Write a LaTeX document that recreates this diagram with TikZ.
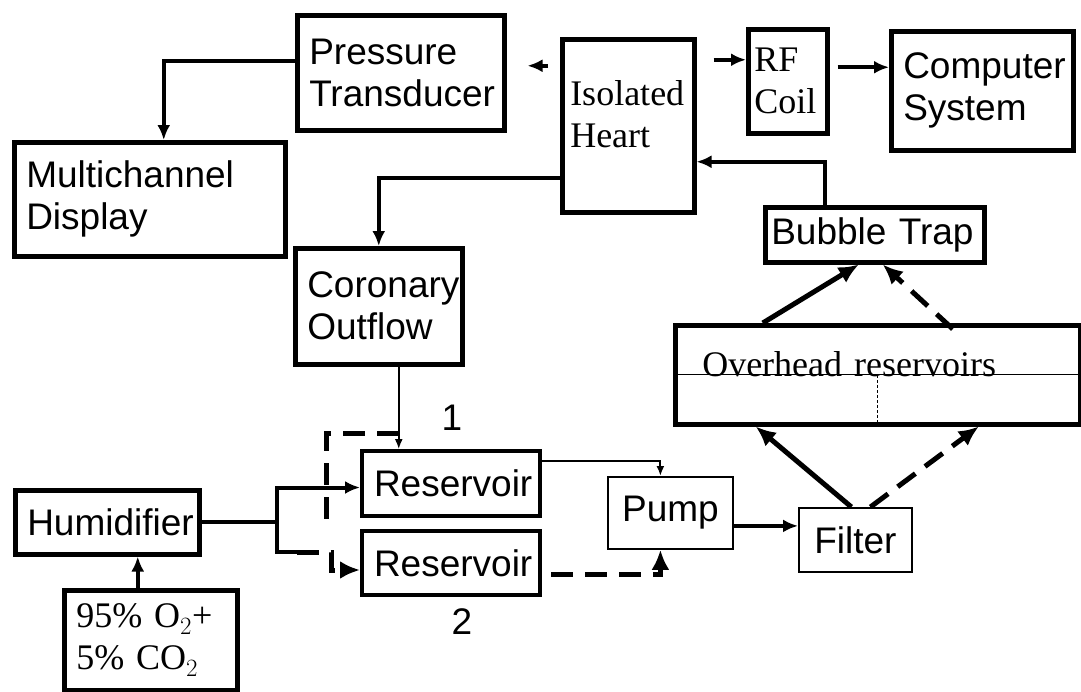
\documentclass[tikz,border=0pt]{standalone}
\usepackage{fontspec}
\setmainfont{Liberation Serif}
\setsansfont{Liberation Sans}
\usetikzlibrary{arrows.meta,calc}

\newcommand{\bigfont}{\fontsize{37}{42}\selectfont}
\newcommand{\serffont}{\rmfamily\fontsize{36}{42}\selectfont}

\begin{document}
\begin{tikzpicture}[x=1pt, y=-1pt,
  box/.style={draw, line width=4.5pt, rectangle, anchor=north west, inner xsep=12pt, inner ysep=4pt, align=left, font=\sffamily\bigfont},
  thinbox/.style={box, line width=1.8pt, align=center},
  serifbox/.style={box, font=\serffont},
  flow/.style={line width=3.5pt, -{Latex[length=15pt,width=13pt]}},
  thinflow/.style={line width=1.6pt, -{Latex[length=10pt,width=8pt]}},
  bigflow/.style={line width=5pt, -{Latex[length=20pt,width=18pt]}},
  dashflow/.style={bigflow, dash pattern=on 22pt off 12pt}]
\useasboundingbox (0,0) rectangle (1081,691);

% Monitoring side
\node[box, text width=183pt, minimum height=115pt] (press) at (295,13) {Pressure\\Transducer};
\node[box, text width=247pt, minimum height=114pt] (multi) at (12,140) {Multichannel\\Display};
\node[serifbox, text width=116pt, inner xsep=8pt, inner ysep=8pt, text height=58pt, text depth=99pt] (heart) at (560,37) {Isolated\\Heart};
\node[serifbox, text width=67pt, inner xsep=6pt, minimum height=104pt] (rfcoil) at (746,27) {RF\\Coil};
\node[box, text width=158pt, minimum height=119pt] (comp) at (889,29) {Computer\\System};

% Perfusion circuit
\node[box, text width=143pt, minimum height=116pt] (coron) at (293,246) {Coronary\\Outflow};
\node[box, text width=207pt, inner xsep=6pt, minimum height=55pt] (bubble) at (763,205) {Bubble Trap};
\node[box, font=\serffont, text width=351pt, inner xsep=27pt, minimum height=99pt, text height=25pt, text depth=22pt] (overhead) at (673,323) {Overhead reservoirs};
\draw[line width=1.2pt] (overhead.west) -- (overhead.east);
\draw[line width=0.8pt, dash pattern=on 3pt off 2pt] (overhead.center) -- (overhead.south);
\node[box, line width=4pt, text width=154pt, minimum height=65pt] (res1) at (360,449) {Reservoir};
\node[box, line width=4pt, text width=154pt, minimum height=64pt] (res2) at (360,529) {Reservoir};
\node[thinbox, minimum width=125pt, minimum height=72pt] (pump) at (607,476) {Pump};
\node[thinbox, minimum width=113pt, minimum height=64pt] (filter) at (798,507) {Filter};
\node[font=\sffamily\bigfont] (one) at (452,418) {1};
\node[font=\sffamily\bigfont] (two) at (462,622) {2};

% Gas supply
\node[box, text width=160pt, minimum height=64pt] (humid) at (13,488) {Humidifier};
\node[serifbox, text width=149pt, inner xsep=12pt, minimum height=100pt] (gas) at (62,588) {95\% O$_2$+\\5\% CO$_2$};

% Signal connectors
\draw[flow] ([yshift=12pt]press.west) -| ([xshift=14pt]multi.north);
\coordinate (hp) at ([yshift=60pt]heart.west);
\draw[flow, line width=4.5pt, shorten <=12pt, shorten >=21pt] (hp) -- (hp -| press.east);
\coordinate (hr) at ([yshift=66pt]heart.east);
\draw[flow, line width=4.5pt, shorten <=17pt] (hr) -- (hr -| rfcoil.west);
\coordinate (rc) at ([yshift=14pt]rfcoil.east);
\draw[flow, line width=4pt, shorten <=8pt] (rc) -- (rc -| comp.west);

% Flow connectors
\draw[flow] ([yshift=-52pt]heart.west) -| (coron.north);
\coordinate (cs) at ([xshift=20pt]coron.south);
\draw[thinflow] (cs) -- (cs |- res1.north);
\coordinate (cj) at ($(cs |- res1.north)+(0,-16)$);
\coordinate (cd) at ($(cj)+(-72,87)$);
\draw[line width=5pt, dash pattern=on 22pt off 12pt] (cj) -| (cd);
\draw[flow, line width=4.5pt] ([xshift=-50pt]bubble.north) |- ([yshift=-36pt]heart.east);
\draw[bigflow] ([xshift=-115pt]overhead.north) -- ([xshift=-16pt]bubble.south);
\draw[dashflow] ([xshift=75pt,yshift=-6pt]overhead.north) -- ([xshift=8pt]bubble.south);
\draw[bigflow] ([xshift=-4pt]filter.north) -- ([xshift=-122pt]overhead.south);
\draw[dashflow] ([xshift=15pt]filter.north) -- ([xshift=101pt]overhead.south);
\coordinate (pe) at ([yshift=-13pt]pump.east);
\draw[flow, line width=4pt] (pe) -- (pe -| filter.west);
\draw[thinflow, line width=2pt] ([yshift=23pt]res1.east) -| ([xshift=-10pt]pump.north);
\draw[dashflow, shorten <=9pt] ([yshift=-11pt]res2.east) -| ([xshift=-10pt]pump.south);

% Gas lines
\coordinate (gn) at ([xshift=-13pt]gas.north);
\draw[flow, line width=4pt] (gn) -- (gn |- humid.south);
\coordinate (split) at ($(humid.east)+(75,0)$);
\draw[line width=4pt] (humid.east) -- (split);
\draw[flow, line width=4pt] (split) |- ([yshift=-4pt]res1.west);
\coordinate (lowturn) at ($(split)+(20,30)$);
\draw[line width=4pt] (split) |- (lowturn);
\draw[dashflow] (lowturn) -- ++(35,0) |- ([yshift=-7pt]res2.west);
\end{tikzpicture}
\end{document}
